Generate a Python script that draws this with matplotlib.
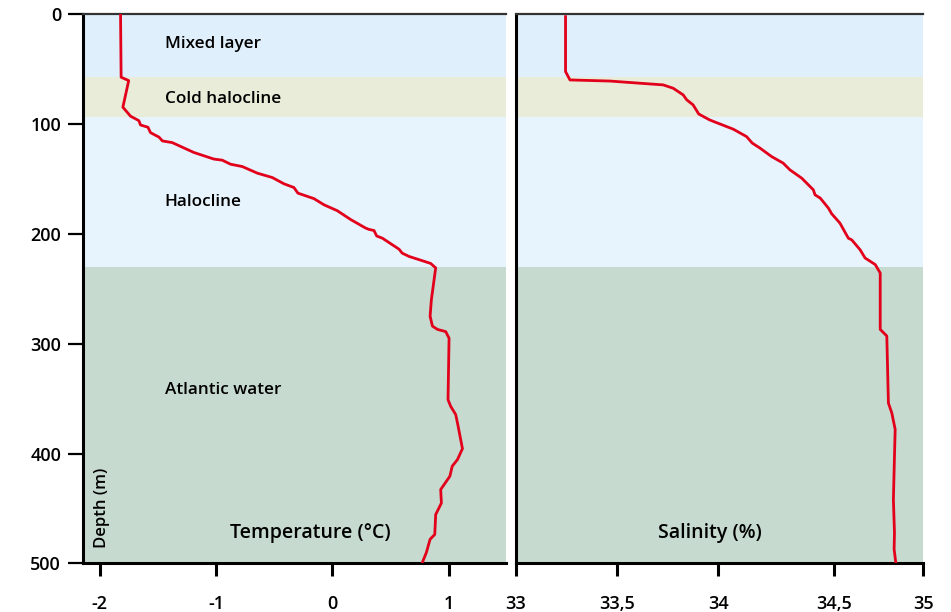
import numpy as np
import matplotlib
matplotlib.use("Agg")
from matplotlib import pyplot as plt

plt.rcParams['font.family'] = ['Open Sans', 'DejaVu Sans']
plt.rcParams['axes.unicode_minus'] = False

# water layers (depth in m)
layer_names = ["Mixed layer", "Cold halocline", "Halocline", "Atlantic water"]
layer_top = [0, 57.5, 94, 230]
layer_bottom = [57.5, 94, 230, 500]
layer_colors = ["#dff0fc", "#e8ecd9", "#e7f4fd", "#c6dad0"]
label_depth = [27, 77, 171, 342]

# temperature profile
temp_depth = [1, 57.5, 60.6, 84.8, 93, 97, 101, 103, 108, 112, 115.5, 117, 126, 132, 133,
              136.7, 138.8, 144.8, 148.8, 154.5, 157.9, 163, 168, 173.6, 179, 187, 194.8,
              196, 197, 202, 204, 214, 217.6, 220.6, 225, 227, 231, 242, 260, 275, 284,
              287, 289, 295, 351, 357, 364.5, 372, 395.5, 405.5, 411.5, 420.6, 432.7, 445,
              455.5, 473.6, 478, 490, 500]
temp = [-1.82, -1.815, -1.75, -1.80, -1.734, -1.663, -1.648, -1.585, -1.562, -1.49, -1.46,
        -1.376, -1.19, -1.018, -0.946, -0.874, -0.774, -0.645, -0.516, -0.416, -0.33, -0.296,
        -0.158, -0.072, 0.043, 0.157, 0.286, 0.315, 0.358, 0.381, 0.43, 0.573, 0.60, 0.659,
        0.788, 0.845, 0.888, 0.874, 0.851, 0.84, 0.86, 0.903, 0.974, 1.003, 0.994, 1.017,
        1.06, 1.075, 1.118, 1.075, 1.03, 1.01, 0.931, 0.937, 0.888, 0.88, 0.84, 0.808, 0.77]

# salinity profile
sal_depth = [2.4, 52.4, 60, 61, 64.5, 67.5, 73.6, 78, 82.7, 91, 96.4, 104.8, 111.5, 117.5,
             122, 129.7, 135.7, 141.8, 149.4, 160, 164.5, 167.6, 176.7, 181.8, 190.3, 204,
             205.5, 214.5, 222, 228, 235.7, 260, 287, 293, 354, 363, 378, 402.5, 442, 472,
             487, 500]
sal = [33.245, 33.245, 33.267, 33.464, 33.728, 33.777, 33.827, 33.844, 33.876, 33.904,
       33.958, 34.065, 34.122, 34.147, 34.18, 34.23, 34.28, 34.309, 34.36, 34.41, 34.417,
       34.44, 34.475, 34.489, 34.532, 34.579, 34.598, 34.645, 34.673, 34.73, 34.758, 34.758,
       34.758, 34.795, 34.804, 34.823, 34.842, 34.838, 34.832, 34.838, 34.836, 34.846]

temp_ticks = [-2, -1, 0, 1]
sal_ticks = [33, 33.5, 34, 34.5, 35]
sal_ticklabels = ["33", "33,5", "34", "34,5", "35"]
depth_ticks = [0, 100, 200, 300, 400, 500]

# the salinity axis of the original is not evenly spaced
sal_ref = [32, 33, 33.5, 34, 34.5, 35, 36]
sal_pos = [-202, 0, 101, 202, 318, 407, 585]

def sal_fwd(v):
    return np.interp(v, sal_ref, sal_pos)

def sal_inv(p):
    return np.interp(p, sal_pos, sal_ref)

red = "#e2001a"

fig = plt.figure(figsize=(9.51, 6.12), dpi=100)
ax1 = fig.add_axes([0.0876, 0.0793, 0.4442, 0.8978])
ax2 = fig.add_axes([0.5426, 0.0793, 0.4283, 0.8978])

for ax in (ax1, ax2):
    for top, bot, c in zip(layer_top, layer_bottom, layer_colors):
        ax.axhspan(top, bot, color=c, lw=0, zorder=0)
    ax.set_ylim(500, 0)
    ax.spines['right'].set_visible(False)
    ax.spines['left'].set_linewidth(2.2)
    ax.spines['bottom'].set_linewidth(2.2)
    ax.spines['top'].set_linewidth(1.6)
    ax.spines['top'].set_color('#333333')
    ax.tick_params(axis='x', direction='out', length=9, width=2.2, pad=14, labelsize=13)
    ax.tick_params(axis='y', direction='out', length=11, width=1.6, pad=5, labelsize=13)

ax1.plot(temp, temp_depth, color=red, lw=2.0, zorder=3)
ax1.set_xlim(-2.14, 1.49)
ax1.set_xticks(temp_ticks)
ax1.set_yticks(depth_ticks)
for lbl in ax1.get_yticklabels() + ax1.get_xticklabels():
    lbl.set_fontweight('semibold')

for name, d in zip(layer_names, label_depth):
    ax1.text(-1.442, d, name, fontsize=12.3, fontweight='semibold', va='center', ha='left')

ax1.text(-0.19, 472, "Temperature (°C)", fontsize=14, fontweight='semibold', va='center', ha='center')
ax1.text(-2.05, 486, "Depth (m)", fontsize=12, fontweight='semibold', rotation=90,
         va='bottom', ha='left')

ax2.set_xscale('function', functions=(sal_fwd, sal_inv))
ax2.plot(sal, sal_depth, color=red, lw=2.0, zorder=3)
ax2.set_xlim(33, 35)
ax2.set_xticks(sal_ticks)
ax2.set_xticklabels(sal_ticklabels)
ax2.set_yticks(depth_ticks)
ax2.tick_params(axis='y', left=False, labelleft=False)
ax2.xaxis.set_minor_locator(matplotlib.ticker.NullLocator())
for lbl in ax2.get_xticklabels():
    lbl.set_fontweight('semibold')
ax2.text(33.96, 472, "Salinity (%)", fontsize=14, fontweight='semibold', va='center', ha='center')

fig.savefig("out.png", dpi=100)
